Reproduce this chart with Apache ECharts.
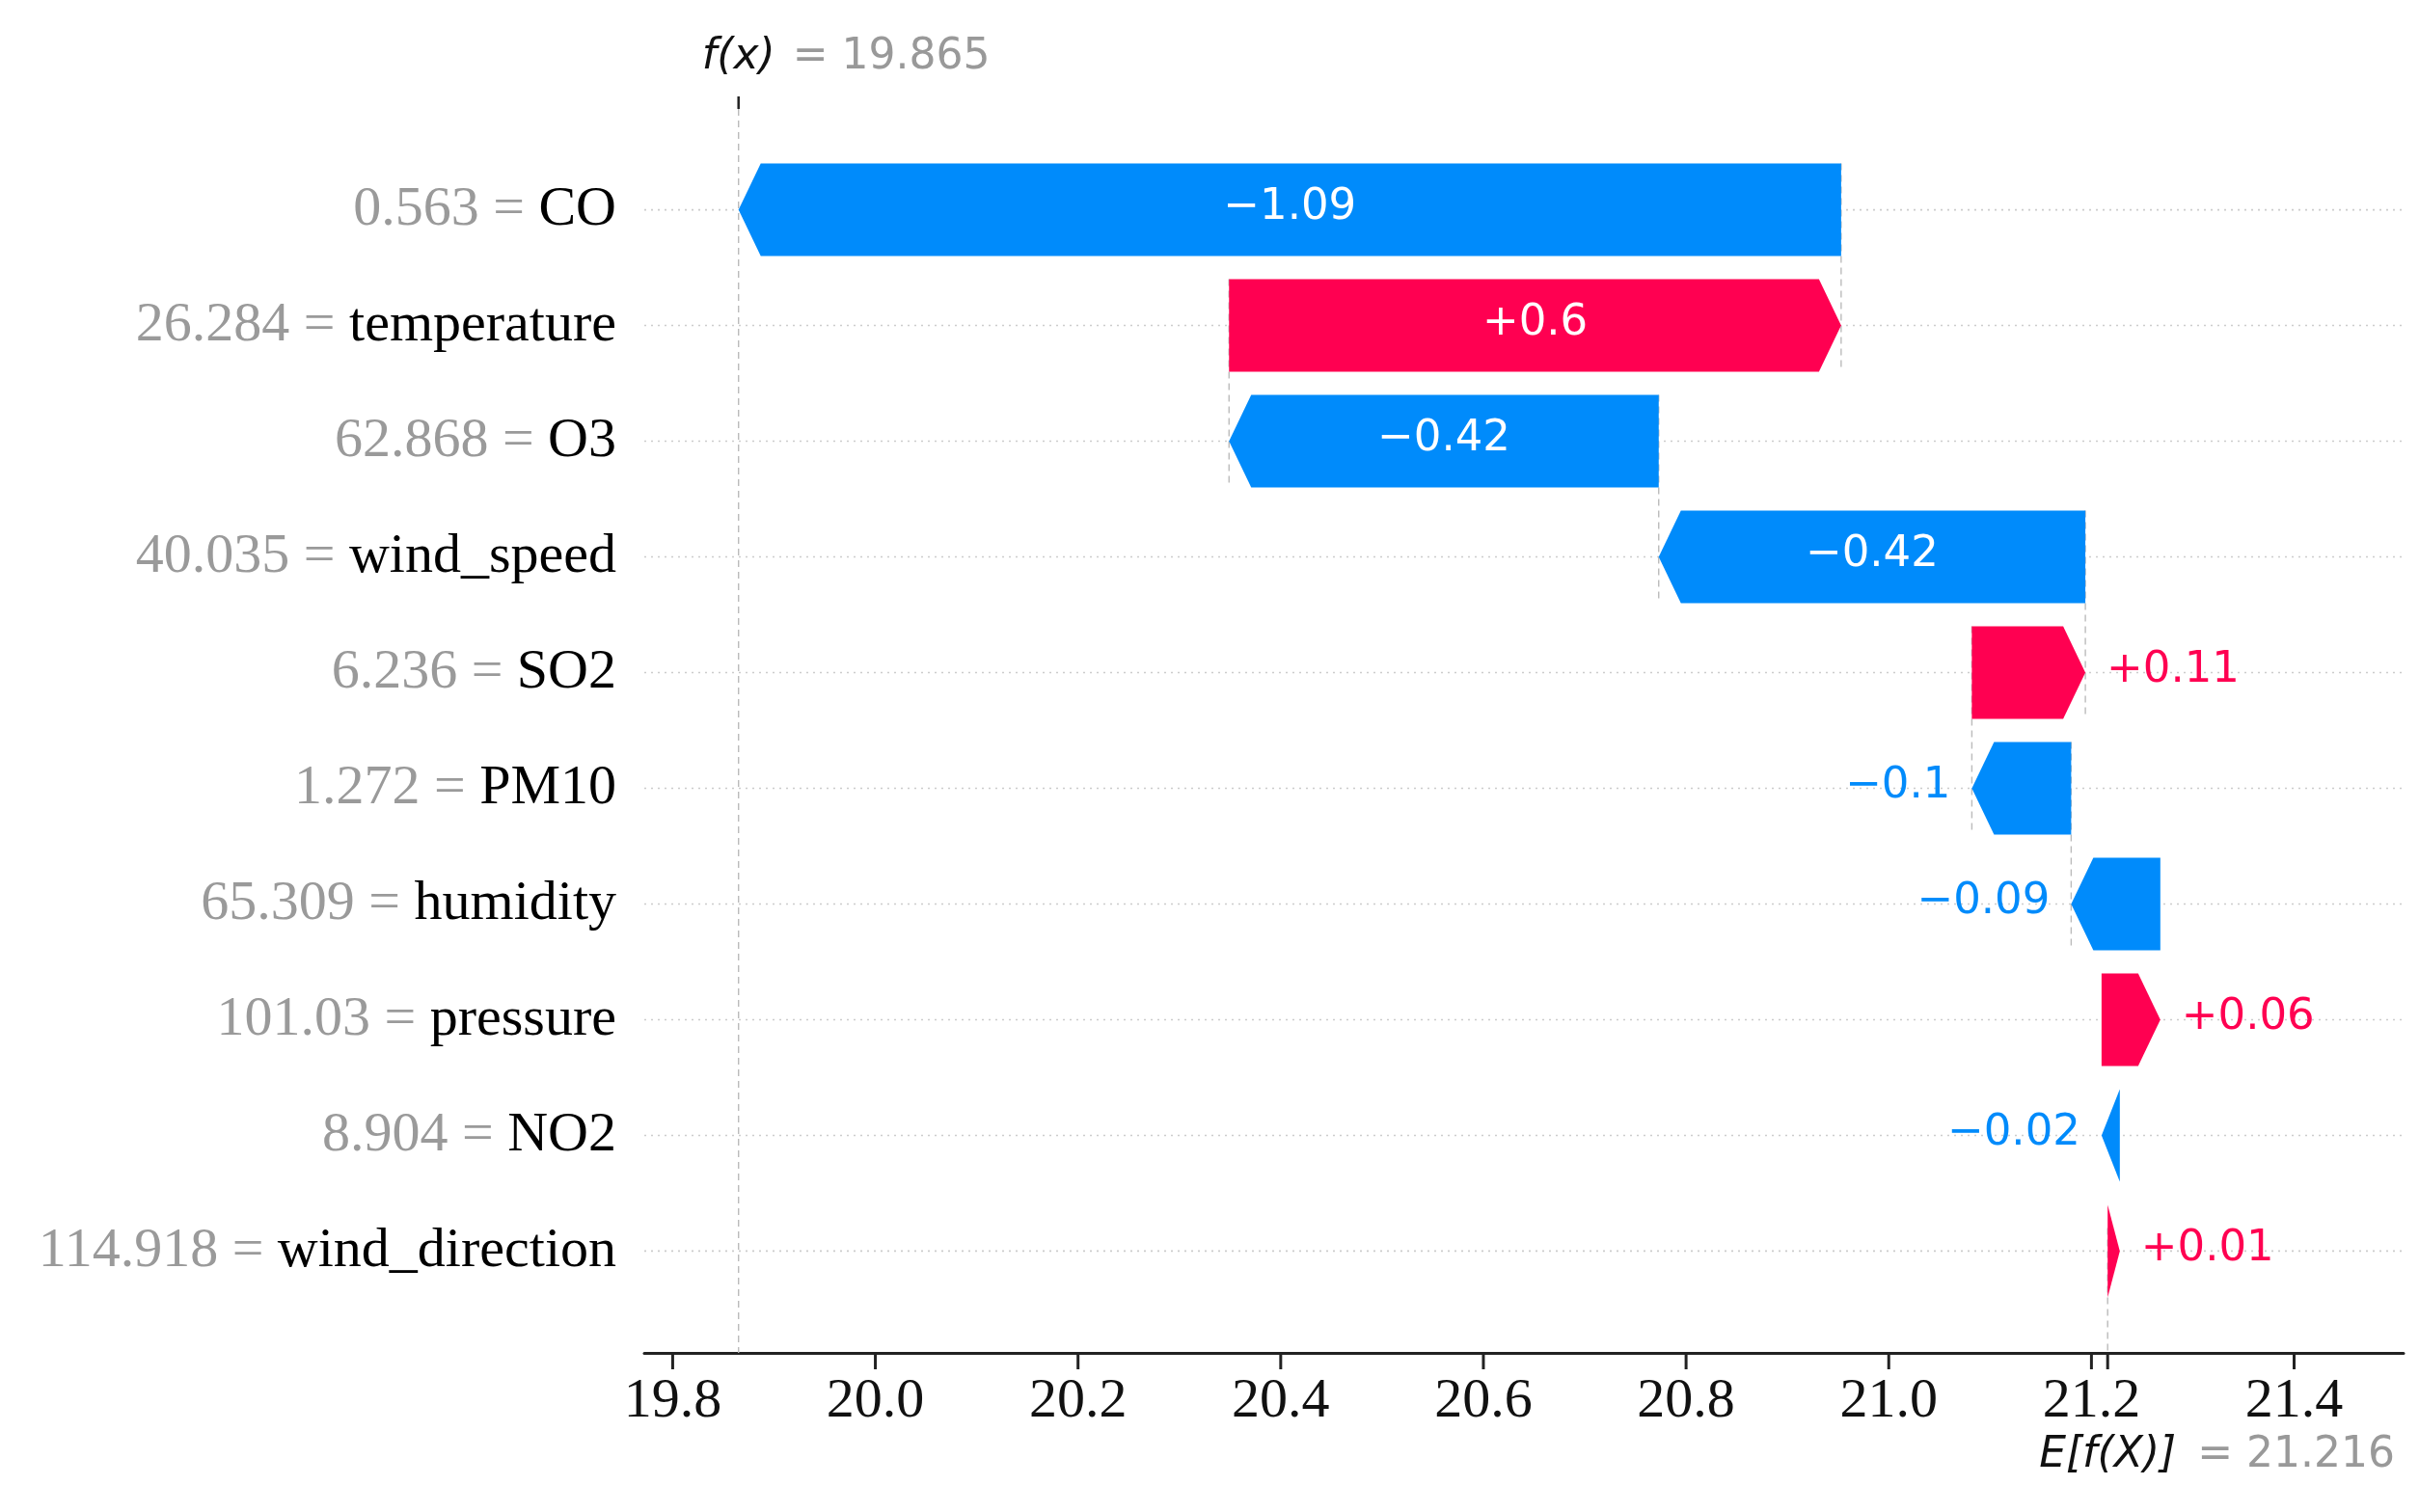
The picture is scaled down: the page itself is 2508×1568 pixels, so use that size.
<!DOCTYPE html>
<html><head><meta charset="utf-8">
<script src="https://cdn.jsdelivr.net/npm/echarts@6/dist/echarts.min.js"></script>
<style>html,body{margin:0;padding:0;background:#fff}#c{width:2508px;height:1568px}</style>
</head><body><div id="c"></div>
<script>
// ---- data ----
const features = ['CO','temperature','O3','wind_speed','SO2','PM10','humidity','pressure','NO2','wind_direction'];
const featureValues = ['0.563','26.284','62.868','40.035','6.236','1.272','65.309','101.03','8.904','114.918'];
const shapValues = [-1.088, 0.604, -0.424, -0.421, 0.112, -0.098, -0.088, 0.058, -0.018, 0.012];
const baseValue = 21.216;
const fxValue = 19.865;
const xTicks = [19.8, 20.0, 20.2, 20.4, 20.6, 20.8, 21.0, 21.2, 21.4];
const xMin = 19.772, xMax = 21.508;

// ---- styling ----
const RED = '#ff0051', BLUE = '#008bfb';
const SANS = '"DejaVu Sans", sans-serif';
const SERIF = '"Liberation Serif", "Times New Roman", serif';
const BAR_FONT = '45px ' + SANS;
const HEAD = 23;

// ---- derived waterfall ----
const n = features.length;
const starts = new Array(n), ends = new Array(n);
let cum = baseValue;
for (let i = n - 1; i >= 0; i--) { starts[i] = cum; ends[i] = cum + shapValues[i]; cum = ends[i]; }
const arrowData = features.map((f, i) => [starts[i], ends[i], i, shapValues[i]]);
const rowData = features.map((f, i) => [xMin, i]);
const connData = [];
for (let i = 0; i < n - 4; i++) connData.push([starts[i], i]);
const tickVals = xTicks.concat([baseValue]);

function fmt(v) {
  let s = Math.abs(v).toFixed(2).replace(/0+$/, '').replace(/\.$/, '');
  return (v < 0 ? '\u2212' : '+') + s;
}
const mctx = document.createElement('canvas').getContext('2d');
function textW(t, font) { mctx.font = font; return mctx.measureText(t).width; }

const chart = echarts.init(document.getElementById('c'), null, {renderer: 'canvas'});
const option = {
  animation: false,
  backgroundColor: '#ffffff',
  grid: {left: 668, right: 16, top: 100, bottom: 165},
  xAxis: {
    type: 'value', min: xMin, max: xMax,
    splitLine: {show: false},
    axisLine: {show: true, onZero: false, lineStyle: {color: '#222', width: 3}},
    axisTick: {show: false},
    axisLabel: {customValues: xTicks, formatter: v => v.toFixed(1), fontFamily: SERIF, fontSize: 58, color: '#111', margin: 22}
  },
  yAxis: {
    type: 'value', inverse: true, min: -0.98, max: 9.88,
    splitLine: {show: false}, axisLine: {show: false}, axisTick: {show: false},
    axisLabel: {
      customValues: features.map((f, i) => i),
      margin: 29,
      formatter: v => { const i = Math.round(v); return '{v|' + featureValues[i] + ' = }{n|' + features[i] + '}'; },
      rich: {
        v: {fontFamily: SERIF, fontSize: 58, color: '#9a9a9a'},
        n: {fontFamily: SERIF, fontSize: 58, color: '#000'}
      }
    }
  },
  series: [
    {
      type: 'custom', name: 'rows', z: 1, data: rowData, silent: true,
      renderItem(params, api) {
        const r = api.value(1);
        const p1 = api.coord([xMin, r]), p2 = api.coord([xMax, r]);
        return {type: 'line', shape: {x1: p1[0], y1: p1[1], x2: p2[0], y2: p2[1]},
          style: {stroke: '#cccccc', lineWidth: 1.6, lineDash: [2, 5]}};
      }
    },
    {
      type: 'custom', name: 'connectors', z: 2, data: connData, silent: true,
      renderItem(params, api) {
        const x = api.value(0), r = api.value(1);
        const p1 = api.coord([x, r - 0.4]), p2 = api.coord([x, r + 1.4]);
        return {type: 'line', shape: {x1: p1[0], y1: p1[1], x2: p2[0], y2: p2[1]},
          style: {stroke: '#bbbbbb', lineWidth: 1.4, lineDash: [7, 5]}};
      }
    },
    {
      type: 'custom', name: 'fxline', z: 2, data: [[fxValue, -0.98]], silent: true, clip: false,
      renderItem(params, api) {
        const x = api.value(0);
        const cs = params.coordSys;
        const p1 = api.coord([x, -0.98]), p2 = api.coord([x, 9.88]);
        const lab = 'f(x)';
        const w = textW(lab, 'italic 44px ' + SANS);
        return {type: 'group', children: [
          {type: 'line', shape: {x1: p1[0], y1: p1[1] + 13, x2: p2[0], y2: p2[1]}, style: {stroke: '#bbbbbb', lineWidth: 1.4, lineDash: [7, 5]}},
          {type: 'rect', shape: {x: p1[0] - 1.25, y: cs.y, width: 2.5, height: 13}, style: {fill: '#222'}},
          {type: 'text', x: p1[0], y: cs.y - 40, style: {text: lab, font: 'italic 44px ' + SANS, fill: '#111', align: 'center', verticalAlign: 'middle'}},
          {type: 'text', x: p1[0] + w / 2 + 18, y: cs.y - 40, style: {text: '= ' + fxValue.toFixed(3), font: '44px ' + SANS, fill: '#999', align: 'left', verticalAlign: 'middle'}}
        ]};
      }
    },
    {
      type: 'custom', name: 'baseline', z: 2, data: [[baseValue, 9.88]], silent: true, clip: false,
      renderItem(params, api) {
        const x = api.value(0);
        const cs = params.coordSys;
        const p1 = api.coord([x, 8.8]), p2 = api.coord([x, 9.88]);
        const lab = 'E[f(X)]';
        const w = textW(lab, 'italic 44px ' + SANS);
        const ty = cs.y + cs.height + 107;
        return {type: 'group', children: [
          {type: 'line', shape: {x1: p1[0], y1: p1[1], x2: p2[0], y2: p2[1]}, style: {stroke: '#bbbbbb', lineWidth: 1.4, lineDash: [7, 5]}},
          {type: 'text', x: p1[0], y: ty, style: {text: lab, font: 'italic 44px ' + SANS, fill: '#111', align: 'center', verticalAlign: 'middle'}},
          {type: 'text', x: p1[0] + w / 2 + 22, y: ty, style: {text: '= ' + baseValue.toFixed(3), font: '44px ' + SANS, fill: '#999', align: 'left', verticalAlign: 'middle'}}
        ]};
      }
    },
    {
      type: 'custom', name: 'arrows', z: 5, data: arrowData, silent: true,
      renderItem(params, api) {
        const s = api.value(0), e = api.value(1), row = api.value(2), v = api.value(3);
        const ps = api.coord([s, row]), pe = api.coord([e, row]);
        const hh = Math.abs(api.size([0, 0.4])[1]);
        const dir = pe[0] >= ps[0] ? 1 : -1;
        const len = Math.abs(pe[0] - ps[0]);
        const hl = Math.min(HEAD, len);
        const y = ps[1];
        const pts = [[ps[0], y - hh], [pe[0] - dir * hl, y - hh], [pe[0], y], [pe[0] - dir * hl, y + hh], [ps[0], y + hh]];
        const color = v >= 0 ? RED : BLUE;
        const label = fmt(v);
        const tw = textW(label, BAR_FONT);
        let txt;
        if (tw < len) {
          txt = {type: 'text', x: (ps[0] + pe[0]) / 2, y: y - 2, style: {text: label, font: BAR_FONT, fill: '#ffffff', align: 'center', verticalAlign: 'middle'}};
        } else {
          txt = {type: 'text', x: pe[0] + dir * 22, y: y - 2, style: {text: label, font: BAR_FONT, fill: color, align: dir > 0 ? 'left' : 'right', verticalAlign: 'middle'}};
        }
        return {type: 'group', children: [
          {type: 'polygon', shape: {points: pts}, style: {fill: color}},
          txt
        ]};
      }
    }
  ]
};
chart.setOption(option);
// axis ticks placed through the library's own scale
const tickGraphics = tickVals.map(v => {
  const p = chart.convertToPixel({gridIndex: 0}, [v, 9.88]);
  return {type: 'rect', z: 100, shape: {x: p[0] - 1.5, y: p[1], width: 3, height: 17}, style: {fill: '#222'}, silent: true};
});
chart.setOption({graphic: tickGraphics});
</script>
</body></html>
